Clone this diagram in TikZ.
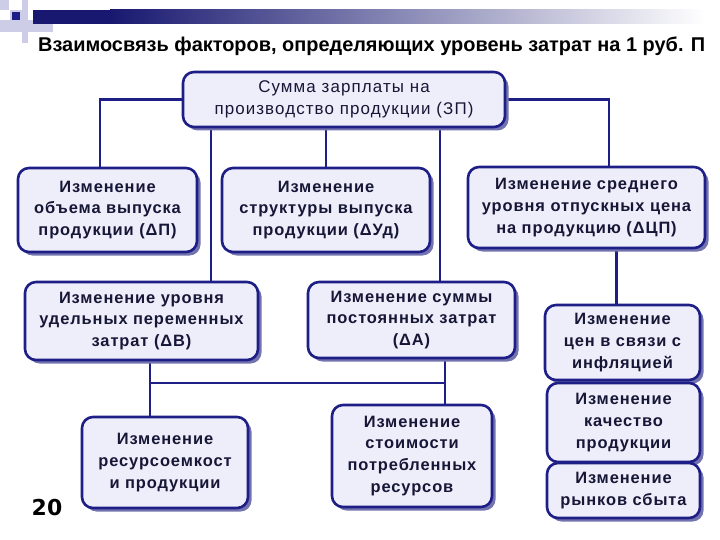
\documentclass[tikz,border=0pt]{standalone}
\usepackage{fontspec}
\setmainfont{Liberation Sans}
\newfontfamily\boxfont[LetterSpace=5.5]{Liberation Sans}
\newfontfamily\sumfont[LetterSpace=6.5]{Liberation Sans}
\newfontfamily\pagefont{DejaVu Sans}
\usetikzlibrary{shadows,backgrounds}

\definecolor{navy}{RGB}{30,30,135}
\definecolor{boxfill}{RGB}{238,238,250}
\definecolor{boxshadow}{RGB}{115,115,175}
\definecolor{boxtext}{RGB}{22,22,55}
\definecolor{pale}{RGB}{205,205,232}
\definecolor{bardark}{RGB}{24,24,112}

\tikzset{
  factor/.style={draw=navy, line width=2.6bp, fill=boxfill, rounded corners=11bp,
    align=center, inner sep=0pt, text=boxtext,
    font=\boxfont\bfseries\fontsize{16.5}{22}\selectfont,
    drop shadow={shadow xshift=3.5bp, shadow yshift=-3.5bp, fill=boxshadow, opacity=1}},
  sumbox/.style={factor, font=\sumfont\fontsize{17}{22}\selectfont},
  link/.style={draw=navy, line width=2.4bp},
}

\begin{document}
\begin{tikzpicture}[x=1bp, y=-1bp]
\useasboundingbox (0,0) rectangle (720,540);
% header decoration
\fill[pale] (0,20) rectangle (53,32);
\fill[pale] (22,0) rectangle (28,43);
\fill[pale] (0,0) rectangle (9,10);
\fill[pale] (10,10) rectangle (22,22);
\fill[navy] (12,12) rectangle (20,20);
\fill[bardark] (33,10) rectangle (110,24);
\shade[left color=bardark, right color=white] (110,10) rectangle (705,24);
\node[font=\bfseries\fontsize{20}{22}\selectfont, anchor=west, inner sep=0pt] (title) at (38,46)
  {Взаимосвязь факторов, определяющих уровень затрат на 1 руб. П};

% boxes
\node[sumbox, minimum width=322bp, minimum height=55bp] (zp) at (344,99.5)
  {Сумма зарплаты на\\производство продукции (ЗП)};
\node[factor, minimum width=179bp, minimum height=84bp] (dP) at (107.5,210)
  {Изменение\\объема выпуска\\продукции (ΔП)};
\node[factor, minimum width=208bp, minimum height=84bp] (dUd) at (326,210)
  {Изменение\\структуры выпуска\\продукции (ΔУд)};
\node[factor, minimum width=237bp, minimum height=81bp] (dCP) at (586.5,207.5)
  {Изменение среднего\\уровня отпускных цена\\на продукцию (ΔЦП)};
\node[factor, minimum width=233bp, minimum height=78bp] (dV) at (141.5,321)
  {Изменение уровня\\удельных переменных\\затрат (ΔВ)};
\node[factor, minimum width=207bp, minimum height=76bp] (dA) at (411.5,320)
  {Изменение суммы\\постоянных затрат\\(ΔА)};
\node[factor, minimum width=166bp, minimum height=91bp] (res) at (165,462.5)
  {Изменение\\ресурсоемкост\\и продукции};
\node[factor, minimum width=160bp, minimum height=102bp] (cost) at (412,456)
  {Изменение\\стоимости\\потребленных\\ресурсов};
\node[factor, minimum width=155bp, minimum height=75bp] (infl) at (622.5,342.5)
  {Изменение\\цен в связи с\\инфляцией};
\node[factor, minimum width=153bp, minimum height=79bp] (qual) at (623.5,422.5)
  {Изменение\\качество\\продукции};
\node[factor, minimum width=153bp, minimum height=55bp] (mark) at (623.5,490.5)
  {Изменение\\рынков сбыта};
\node[font=\pagefont\bfseries\fontsize{22}{24}\selectfont, inner sep=0pt] (page) at (47,508) {20};

% connectors
\coordinate (tP) at ([xshift=-7.5bp]dP.north);
\coordinate (tCP) at ([xshift=22.5bp]dCP.north);
\coordinate (tV) at ([xshift=29bp]zp.south west);
\coordinate (tA) at ([xshift=28.5bp]dA.north);
\coordinate (tI) at ([xshift=-6bp]infl.north);
\coordinate (tR) at ([xshift=-15bp]res.north);
\coordinate (tC) at ([xshift=33bp]cost.north);
\coordinate (bus) at (0,383);
\begin{scope}[on background layer]
\draw[link] (zp.west) -| (tP);
\draw[link] (zp.east) -| (tCP);
\draw[link] (tV) -- (tV |- dV.north);
\draw[link] (dUd.north |- zp.south) -- (dUd.north);
\draw[link] (tA |- zp.south) -- (tA);
\draw[link] (tI |- dCP.south) -- (tI);
\draw[link] (tR |- dV.south) -- (tR);
\draw[link] (tC |- dA.south) -- (tC);
\draw[link] (tR |- bus) -- (tC |- bus);
\end{scope}
\end{tikzpicture}
\end{document}
